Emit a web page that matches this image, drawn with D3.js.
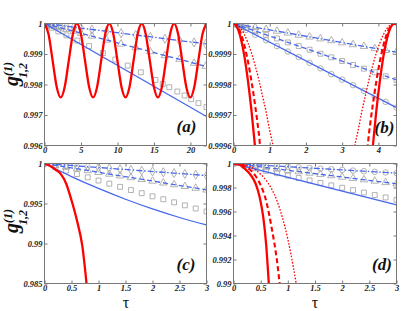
<!DOCTYPE html>
<html>
<head>
<meta charset="utf-8">
<script src="https://cdn.jsdelivr.net/npm/d3@7"></script>
<style>
  body { margin: 0; background: #fff; }
  svg { display: block; }
</style>
</head>
<body>
<div id="container"></div>
<script>
// ---------- values ----------

// panel (a)
const aRedT = [0,0.555,1.11,1.665,2.22,2.775,3.33,3.885,4.44,4.995,5.55,6.105,6.66,7.215,7.77,8.325,8.88,9.435,9.99,10.545,11.1,11.655,12.21,12.765,13.32,13.875,14.43,14.985,15.54,16.095,16.65,17.205,17.76,18.315,18.87,19.425,19.98,20.535,21.09,21.645,22.2]
const aRedV = [1,0.99965,0.99879,0.99793,0.99758,0.99793,0.99879,0.99965,
  1,0.99965,0.99879,0.99793,0.99758,0.99793,0.99879,0.99965,
  1,0.99965,0.99879,0.99793,0.99758,0.99793,0.99879,0.99965,
  1,0.99965,0.99879,0.99793,0.99758,0.99793,0.99879,0.99965,
  1,0.99965,0.99879,0.99793,0.99758,0.99793,0.99879,0.99965,1]
const aSolidT = [0, 22.2], aSolidV = [1, 0.99695]
const aDashT = [0, 22.2], aDashV = [1, 0.99859]
const aDashDotT = [0, 22.2], aDashDotV = [1, 0.99933]
const aSqT = [0,0.5,1,1.9,3,4.5,6.1,8,9.7,11.4,13.2,15.2,16.2,17.1,18.2,19.2,20.1,21.1,22.2]
const aSqV = [1,0.99993,0.99986,0.99974,0.99961,0.99944,0.99926,0.99903,0.99882,0.99862,0.9984,0.99815,0.99802,0.99791,0.99777,0.99764,0.99752,0.99739,0.99726]
const aMarkT = [0,0.5,1,1.5,2.2,3,4,5,6.5,8.5,10.5,12.5,14.5,16.5,18.5,20.5,22.1]
const aTriV = [1,0.99997,0.99994,0.9999,0.99986,0.99981,0.99975,0.99968,0.99959,0.99946,0.99933,0.99921,0.99908,0.99895,0.99883,0.9987,0.9986]
const aDiaV = [1,0.99998,0.99997,0.99995,0.99993,0.99991,0.99988,0.99985,0.9998,0.99974,0.99968,0.99962,0.99956,0.9995,0.99944,0.99938,0.99933]

// panel (b)
const bRedSolidT = [0,0.1,0.2,0.3,0.4,0.5,0.6,0.7,3.74,3.84,3.94,4.04,4.14,4.24,4.34,4.44,4.5]
const bRedSolidV = [1,0.999988,0.999952,0.999893,0.999811,0.99971,0.999589,0.999454,0.999454,0.999589,0.99971,0.999811,0.999893,0.999952,0.999988,1,0.999996]
const bRedDashT = [0,0.1,0.2,0.3,0.4,0.5,0.6,0.7,0.8,3.64,3.74,3.84,3.94,4.04,4.14,4.24,4.34,4.44,4.5]
const bRedDashV = [1,0.999992,0.999968,0.999929,0.999875,0.999808,0.999729,0.999639,0.999538,0.999538,0.999639,0.999729,0.999808,0.999875,0.999929,0.999968,0.999992,1,0.999997]
const bRedDotT = [0,0.1,0.2,0.3,0.4,0.5,0.6,0.7,0.8,0.9,1.0,1.1,1.2,3.24,3.34,3.44,3.54,3.64,3.74,3.84,3.94,4.04,4.14,4.24,4.34,4.44,4.5]
const bRedDotV = [1,0.999996,0.999984,0.999964,0.999936,0.999902,0.999861,0.999815,0.999763,0.99971,0.999649,0.999596,0.999538,0.999538,0.999596,0.999649,0.99971,0.999763,0.999815,0.999861,0.999902,0.999936,0.999964,0.999984,0.999996,1,0.999998]
const bSolidT = [0, 4.5], bSolidV = [1, 0.999724]
const bDashT = [0, 4.5], bDashV = [1, 0.999815]
const bDashDotT = [0, 4.5], bDashDotV = [1, 0.999906]
const bMarkT = [0,0.1,0.2,0.35,0.6,0.9,1.2,1.5,1.8,2.1,2.4,2.7,3.0,3.3,3.6,3.9,4.2,4.5]
const bCircV = [1,0.999994,0.999988,0.999979,0.999963,0.999945,0.999926,0.999908,0.99989,0.999871,0.999853,0.999834,0.999816,0.999798,0.999779,0.999761,0.999743,0.999724]
const bSqV = [1,0.999996,0.999992,0.999986,0.999975,0.999963,0.999951,0.999938,0.999926,0.999914,0.999901,0.999889,0.999877,0.999864,0.999852,0.99984,0.999827,0.999815]
const bTriV = [1,0.999998,0.999996,0.999993,0.999987,0.999981,0.999975,0.999969,0.999962,0.999956,0.99995,0.999944,0.999937,0.999931,0.999925,0.999918,0.999912,0.999906]

// panel (c)
const cRedT = [0,0.1,0.2,0.3,0.4,0.5,0.6,0.7,0.8]
const cRedV = [1,0.99972,0.99925,0.9987,0.9975,0.9954,0.9929,0.9897,0.9835]
const cSolidT = [0,0.5,1,1.5,2,2.5,3]
const cSolidV = [1,0.99837,0.99688,0.99553,0.99432,0.99325,0.99232]
const cDashT = [0, 3], cDashV = [1, 0.99671]
const cDashDotT = [0, 3], cDashDotV = [1, 0.9985]
const cMarkT = [0,0.2,0.4,0.6,0.8,1.0,1.2,1.4,1.6,1.8,2.0,2.2,2.4,2.6,2.8,3.0]
const cSqV = [1,0.99955,0.9991,0.99868,0.99827,0.99787,0.99748,0.99708,0.99668,0.99629,0.9959,0.99553,0.99515,0.99477,0.99438,0.994]
const cTriV = [1,0.99978,0.99956,0.99934,0.99912,0.9989,0.99868,0.99846,0.99824,0.99802,0.9978,0.99758,0.99736,0.99714,0.99692,0.9967]
const cDiaV = [1,0.9999,0.9998,0.9997,0.9996,0.9995,0.9994,0.9993,0.9992,0.9991,0.999,0.9989,0.9988,0.9987,0.9986,0.9985]

// panel (d)
const dRedSolidT = [0,0.1,0.2,0.3,0.4,0.45,0.5,0.55,0.6,0.65,0.7]
const dRedSolidV = [1,0.99992,0.9996,0.99914,0.9984,0.99775,0.9968,0.99545,0.99331,0.99,0.9865]
const dRedDashT = [0,0.1,0.2,0.3,0.4,0.5,0.6,0.7,0.8,0.9]
const dRedDashV = [1,0.99995,0.99978,0.9995,0.999,0.9982,0.9969,0.9947,0.9919,0.9878]
const dRedDotT = [0,0.2,0.4,0.5,0.6,0.7,0.8,0.9,1.0,1.1,1.2]
const dRedDotV = [1,0.9999,0.9995,0.9991,0.9986,0.9979,0.9969,0.9955,0.9937,0.9914,0.9887]
const dSolidT = [0, 3], dSolidV = [1, 0.99656]
const dDashT = [0, 3], dDashV = [1, 0.99831]
const dDashDotT = [0, 3], dDashDotV = [1, 0.9992]
const dMarkT = [0,0.2,0.4,0.6,0.8,1.0,1.2,1.4,1.6,1.8,2.0,2.2,2.4,2.6,2.8,3.0]
const dSqV = [1,0.9998,0.9996,0.99939,0.99919,0.99899,0.99879,0.99859,0.99838,0.99818,0.99798,0.99778,0.99758,0.99737,0.99717,0.99697]
const dTriV = [1,0.99989,0.99977,0.99966,0.99955,0.99944,0.99932,0.99921,0.9991,0.99899,0.99887,0.99876,0.99865,0.99854,0.99842,0.99831]
const dCircV = [1,0.99995,0.99989,0.99984,0.99979,0.99973,0.99968,0.99963,0.99957,0.99952,0.99947,0.99941,0.99936,0.99931,0.99925,0.9992]

// tick values and labels
const aXTicks = [0,5,10,15,20], aXLabels = ['0','5','10','15','20']
const aYTicks = [1,0.999,0.998,0.997,0.996], aYLabels = ['1','0.999','0.998','0.997','0.996']
const bXTicks = [0,1,2,3,4], bXLabels = ['0','1','2','3','4']
const bYTicks = [1,0.9999,0.9998,0.9997,0.9996], bYLabels = ['1','0.9999','0.9998','0.9997','0.9996']
const cdXTicks = [0,0.5,1,1.5,2,2.5,3], cdXLabels = ['0','0.5','1','1.5','2','2.5','3']
const cYTicks = [1,0.995,0.99,0.985], cYLabels = ['1','0.995','0.99','0.985']
const dYTicks = [1,0.998,0.996,0.994,0.992,0.99], dYLabels = ['1','0.998','0.996','0.994','0.992','0.99']

// ---------- drawing ----------
const serif = '"Liberation Serif","DejaVu Serif",serif'
const red = '#ff0000', blue = '#4768ee', gray = '#a0a0a0'

const zip = (t, v) => t.map((d, i) => [d, v[i]])

const redSolid = {stroke: red, width: 2.3, dash: null}
const redDash = {stroke: red, width: 2.1, dash: '5,3'}
const redDot = {stroke: red, width: 1.3, dash: '1.6,1.6'}
const blueSolid = {stroke: blue, width: 1.3, dash: null}
const blueDash = {stroke: blue, width: 1.3, dash: '5,3'}
const blueDashDot = {stroke: blue, width: 1.3, dash: '6,2,1.5,2'}

const svg = d3.select('#container')
    .append('svg')
    .attr('width', 415)
    .attr('height', 311)

function panel(p) {
    const x = d3.scaleLinear().domain(p.xDomain).range([p.left, p.right])
    const y = d3.scaleLinear().domain(p.yDomain).range([p.bottom, p.top])
    const g = svg.append('g')

    g.append('clipPath').attr('id', 'clip-' + p.id)
        .append('rect')
        .attr('x', p.left).attr('y', p.top)
        .attr('width', p.right - p.left).attr('height', p.bottom - p.top)

    const styleAxis = sel => {
        sel.select('.domain').remove()
        sel.selectAll('.tick line').attr('stroke', '#777')
        sel.selectAll('.tick text')
            .style('font-family', serif)
            .style('font-size', '8.5px')
            .style('font-weight', 'bold')
            .style('font-style', 'italic')
            .attr('fill', '#222')
    }

    g.append('g').attr('transform', `translate(0,${p.bottom})`)
        .call(d3.axisBottom(x).tickValues(p.xTicks).tickFormat((d, i) => p.xLabels[i])
            .tickSizeInner(-3).tickSizeOuter(0).tickPadding(1.5))
        .call(styleAxis)
    g.append('g').attr('transform', `translate(0,${p.top})`)
        .call(d3.axisTop(x).tickValues(p.xTicks).tickFormat('')
            .tickSizeInner(-3).tickSizeOuter(0))
        .call(styleAxis)
    g.append('g').attr('transform', `translate(${p.left},0)`)
        .call(d3.axisLeft(y).tickValues(p.yTicks).tickFormat((d, i) => p.yLabels[i])
            .tickSizeInner(-3).tickSizeOuter(0).tickPadding(2))
        .call(styleAxis)
    g.append('g').attr('transform', `translate(${p.right},0)`)
        .call(d3.axisRight(y).tickValues(p.yTicks).tickFormat('')
            .tickSizeInner(-3).tickSizeOuter(0))
        .call(styleAxis)

    const line = d3.line()
        .x(d => x(d[0]))
        .y(d => y(d[1]))
        .curve(d3.curveMonotoneX)

    const lines = g.append('g').attr('clip-path', `url(#clip-${p.id})`)

    // gray markers first, lines on top
    p.markers.forEach(m => {
        lines.append('g')
            .selectAll('path')
            .data(m.pts)
            .join('path')
            .attr('transform', d => `translate(${x(d[0])},${y(d[1])})`)
            .attr('d', d3.symbol(m.shape, m.size || 24))
            .attr('fill', 'none')
            .attr('stroke', gray)
            .attr('stroke-width', 0.8)
    })

    p.series.forEach(s => {
        lines.append('path')
            .datum(s.pts)
            .attr('d', line)
            .attr('fill', 'none')
            .attr('stroke', s.style.stroke)
            .attr('stroke-width', s.style.width)
            .attr('stroke-dasharray', s.style.dash)
    })

    g.append('rect')
        .attr('x', p.left).attr('y', p.top)
        .attr('width', p.right - p.left).attr('height', p.bottom - p.top)
        .attr('fill', 'none')
        .attr('stroke', '#777')
        .attr('stroke-width', 1)

    g.append('text')
        .attr('x', p.labelX).attr('y', p.labelY)
        .attr('text-anchor', 'middle')
        .style('font-family', serif)
        .style('font-size', '17px')
        .style('font-weight', 'bold')
        .style('font-style', 'italic')
        .attr('fill', '#111')
        .text(p.label)
}

panel({
    id: 'a', left: 44.5, right: 206.5, top: 23.5, bottom: 145.5,
    xDomain: [0, 22.2], yDomain: [0.996, 1],
    xTicks: aXTicks, xLabels: aXLabels, yTicks: aYTicks, yLabels: aYLabels,
    label: '(a)', labelX: 186.5, labelY: 132,
    markers: [
        {pts: zip(aSqT, aSqV), shape: d3.symbolSquare},
        {pts: zip(aMarkT, aTriV), shape: d3.symbolTriangle},
        {pts: zip(aMarkT, aDiaV), shape: d3.symbolDiamond},
    ],
    series: [
        {pts: zip(aSolidT, aSolidV), style: blueSolid},
        {pts: zip(aDashT, aDashV), style: blueDash},
        {pts: zip(aDashDotT, aDashDotV), style: blueDashDot},
        {pts: zip(aRedT, aRedV), style: redSolid},
    ]
})

panel({
    id: 'b', left: 233.5, right: 396.5, top: 23.5, bottom: 145.5,
    xDomain: [0, 4.5], yDomain: [0.9996, 1],
    xTicks: bXTicks, xLabels: bXLabels, yTicks: bYTicks, yLabels: bYLabels,
    label: '(b)', labelX: 384.5, labelY: 133,
    markers: [
        {pts: zip(bMarkT, bCircV), shape: d3.symbolCircle},
        {pts: zip(bMarkT, bSqV), shape: d3.symbolSquare},
        {pts: zip(bMarkT, bTriV), shape: d3.symbolTriangle},
    ],
    series: [
        {pts: zip(bSolidT, bSolidV), style: blueSolid},
        {pts: zip(bDashT, bDashV), style: blueDash},
        {pts: zip(bDashDotT, bDashDotV), style: blueDashDot},
        {pts: zip(bRedDotT, bRedDotV), style: redDot},
        {pts: zip(bRedDashT, bRedDashV), style: redDash},
        {pts: zip(bRedSolidT, bRedSolidV), style: redSolid},
    ]
})

panel({
    id: 'c', left: 44.5, right: 206.5, top: 163.5, bottom: 283.5,
    xDomain: [0, 3], yDomain: [0.985, 1],
    xTicks: cdXTicks, xLabels: cdXLabels, yTicks: cYTicks, yLabels: cYLabels,
    label: '(c)', labelX: 186, labelY: 270,
    markers: [
        {pts: zip(cMarkT, cSqV), shape: d3.symbolSquare},
        {pts: zip(cMarkT, cTriV), shape: d3.symbolTriangle},
        {pts: zip(cMarkT, cDiaV), shape: d3.symbolDiamond},
    ],
    series: [
        {pts: zip(cSolidT, cSolidV), style: blueSolid},
        {pts: zip(cDashT, cDashV), style: blueDash},
        {pts: zip(cDashDotT, cDashDotV), style: blueDashDot},
        {pts: zip(cRedT, cRedV), style: redSolid},
    ]
})

panel({
    id: 'd', left: 233.5, right: 396.5, top: 163.5, bottom: 283.5,
    xDomain: [0, 3], yDomain: [0.99, 1],
    xTicks: cdXTicks, xLabels: cdXLabels, yTicks: dYTicks, yLabels: dYLabels,
    label: '(d)', labelX: 382, labelY: 270,
    markers: [
        {pts: zip(dMarkT, dSqV), shape: d3.symbolSquare},
        {pts: zip(dMarkT, dTriV), shape: d3.symbolTriangle},
        {pts: zip(dMarkT, dCircV), shape: d3.symbolCircle},
    ],
    series: [
        {pts: zip(dSolidT, dSolidV), style: blueSolid},
        {pts: zip(dDashT, dDashV), style: blueDash},
        {pts: zip(dDashDotT, dDashDotV), style: blueDashDot},
        {pts: zip(dRedDotT, dRedDotV), style: redDot},
        {pts: zip(dRedDashT, dRedDashV), style: redDash},
        {pts: zip(dRedSolidT, dRedSolidV), style: redSolid},
    ]
})

// y axis labels  g^(1)_{1,2}
const yLabel = (cx, cy) => {
    const t = svg.append('text')
        .attr('transform', `translate(${cx},${cy}) rotate(-90)`)
        .style('font-family', serif)
        .style('font-weight', 'bold')
        .style('font-style', 'italic')
        .attr('fill', '#111')
    t.append('tspan').style('font-size', '20px').text('g')
    t.append('tspan').style('font-size', '12px').attr('dy', -6).text('(1)')
    t.append('tspan').style('font-size', '12px').attr('dx', -16).attr('dy', 15).text('1,2')
}
yLabel(18, 86)
yLabel(18, 233)

// x axis labels
;[126, 315].forEach(cx => {
    svg.append('text')
        .attr('x', cx).attr('y', 307.5)
        .attr('text-anchor', 'middle')
        .style('font-family', serif)
        .style('font-size', '16px')
        .attr('fill', '#111')
        .text('τ')
})
</script>
</body>
</html>
